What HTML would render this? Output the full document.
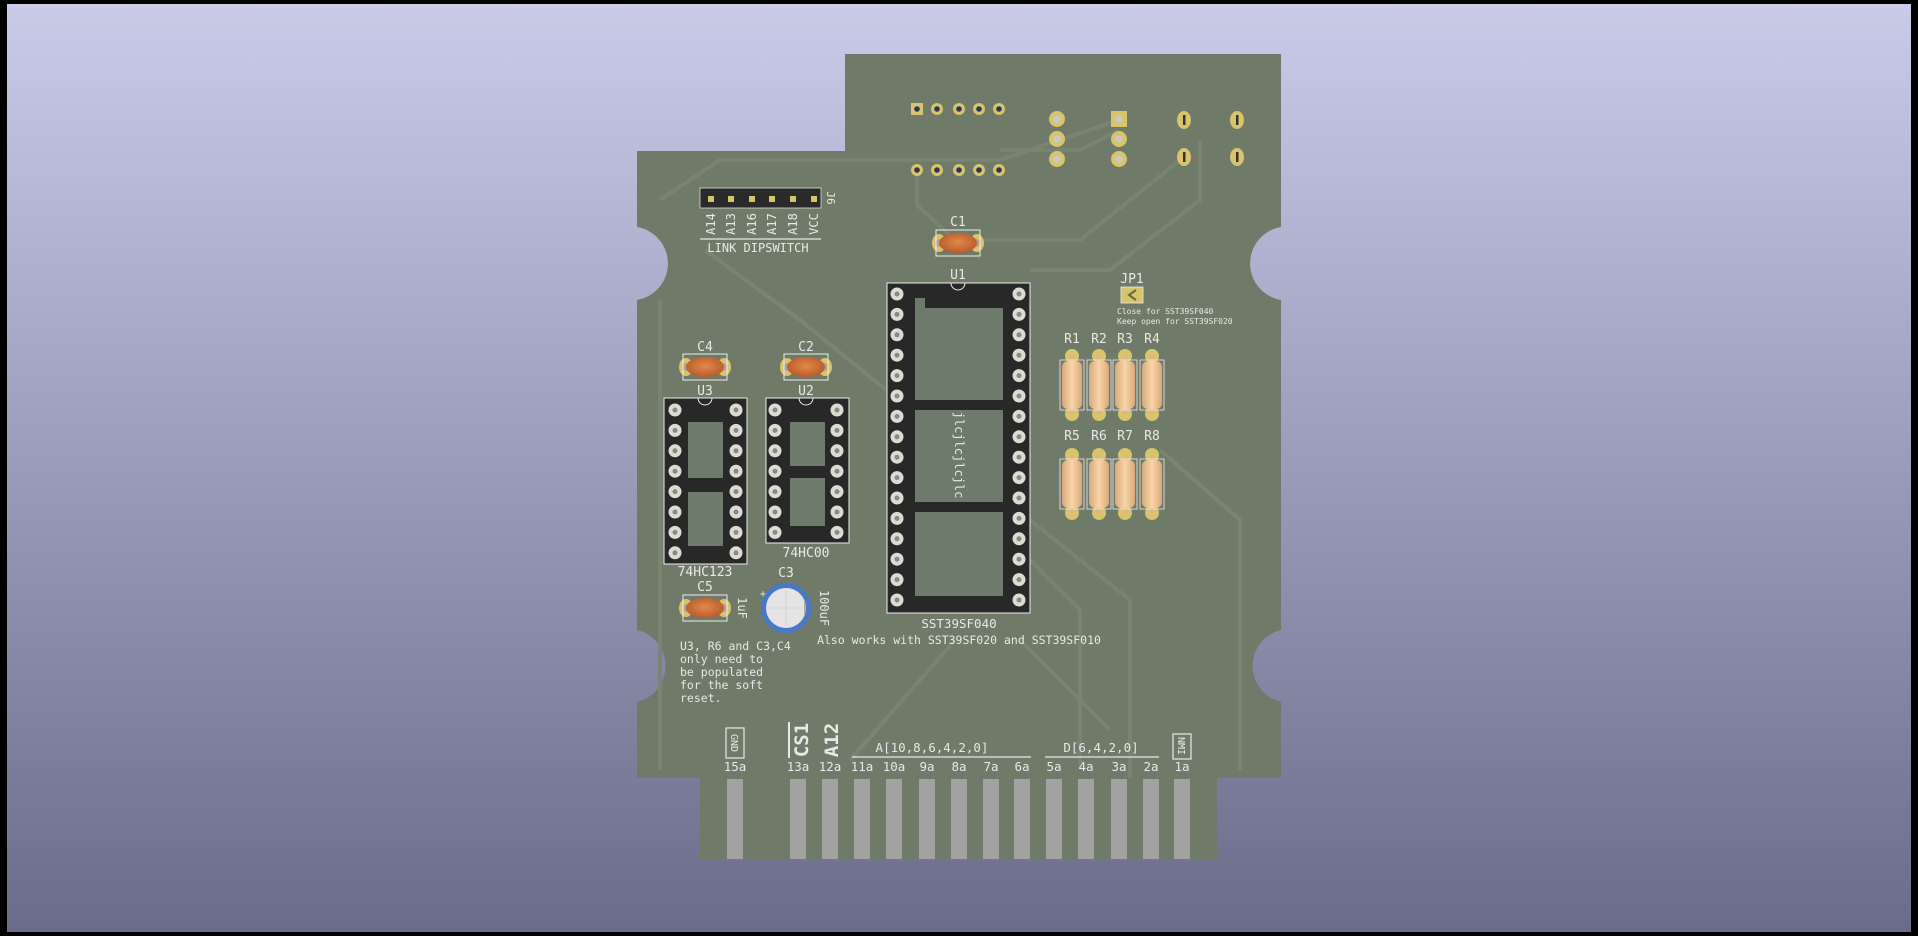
<!DOCTYPE html>
<html><head><meta charset="utf-8"><style>
html,body{margin:0;padding:0;width:1918px;height:936px;overflow:hidden;background:#000}
svg{display:block}
text{font-family:"DejaVu Sans Mono","Liberation Mono",monospace;fill:#e8e8e8}
</style></head><body>
<svg width="1918" height="936" viewBox="0 0 1918 936" xmlns="http://www.w3.org/2000/svg">
<defs>
<linearGradient id="bg" x1="0" y1="0" x2="0" y2="1">
<stop offset="0" stop-color="#cacbe8"/><stop offset="1" stop-color="#6a6c8a"/>
</linearGradient>
<radialGradient id="cap" cx="0.5" cy="0.45" r="0.6"><stop offset="0" stop-color="#e08a4a"/><stop offset="1" stop-color="#b8562a"/></radialGradient>
<linearGradient id="res" x1="0" y1="0" x2="1" y2="0"><stop offset="0" stop-color="#d9a87a"/><stop offset="0.5" stop-color="#f7d6a8"/><stop offset="1" stop-color="#d9a87a"/></linearGradient>
<g id="spin"><circle r="6.5" fill="#dcdcd4"/><circle r="2.5" fill="#8a8a84"/></g>
<g id="gpad"><circle r="6" fill="#d8c46a"/><circle r="2.8" fill="#2a3560"/></g>
<g id="bpad"><circle r="8" fill="#d8c46a"/><circle r="3.5" fill="#c8c8d0"/></g>
<g id="scap"><ellipse cx="-19" cy="0" rx="7" ry="9" fill="#d8c46a"/><ellipse cx="19" cy="0" rx="7" ry="9" fill="#d8c46a"/><ellipse cx="-19" cy="0" rx="3" ry="4" fill="#b0a0a0"/><ellipse cx="19" cy="0" rx="3" ry="4" fill="#b0a0a0"/><ellipse rx="19" ry="10" fill="url(#cap)"/><rect x="-22" y="-13" width="44" height="26" fill="none" stroke="#eee" stroke-width="1"/></g>
<g id="resg"><circle cx="0" cy="-29" r="7" fill="#d8c46a"/><circle cx="0" cy="29" r="7" fill="#d8c46a"/><rect x="-3" y="-29" width="6" height="58" fill="#e0b67e"/><rect x="-10" y="-24" width="20" height="48" rx="6" fill="url(#res)"/><rect x="-12" y="-25" width="24" height="50" fill="none" stroke="#eee" stroke-width="0.8"/></g>
</defs>
<rect x="7" y="4" width="1904" height="928" fill="url(#bg)"/>
<!-- board -->
<path d="M845 54 H1281 V227 A37 37 0 0 0 1281 300 V630 A37 37 0 0 0 1281 702 V778 H1217 V859 H700 V778 H637 V702 A37 37 0 0 0 637 630 V300 A37 37 0 0 0 637 227 V151 H845 Z" fill="#707a68"/>
<!-- traces -->
<g stroke="#7a8572" stroke-width="4" fill="none" opacity="0.9">
<path d="M917 170 V205 L955 240 H1080 L1184 157"/><path d="M660 200 L720 160 H1000 L1119 120"/>
<path d="M705 250 L800 320 L886 390"/><path d="M1030 270 H1110 L1200 200 V140"/>
<path d="M1030 520 L1130 600 V778"/><path d="M1030 560 L1080 610 V770"/>
<path d="M955 640 L850 760"/><path d="M1020 640 L1110 730"/><path d="M660 300 V770"/>
<path d="M1160 450 L1240 520 V770"/><path d="M1000 150 H1080 L1119 130"/>
</g>
<!-- fingers -->
<g fill="#a2a2a2">
<rect x="727" y="779" width="16" height="80"/><rect x="790" y="779" width="16" height="80"/><rect x="822" y="779" width="16" height="80"/><rect x="854" y="779" width="16" height="80"/><rect x="886" y="779" width="16" height="80"/><rect x="919" y="779" width="16" height="80"/><rect x="951" y="779" width="16" height="80"/><rect x="983" y="779" width="16" height="80"/><rect x="1014" y="779" width="16" height="80"/><rect x="1046" y="779" width="16" height="80"/><rect x="1078" y="779" width="16" height="80"/><rect x="1111" y="779" width="16" height="80"/><rect x="1143" y="779" width="16" height="80"/><rect x="1174" y="779" width="16" height="80"/>
</g>
<g font-size="12.5" text-anchor="middle">
<text x="735" y="771">15a</text><text x="798" y="771">13a</text><text x="830" y="771">12a</text><text x="862" y="771">11a</text><text x="894" y="771">10a</text><text x="927" y="771">9a</text><text x="959" y="771">8a</text><text x="991" y="771">7a</text><text x="1022" y="771">6a</text><text x="1054" y="771">5a</text><text x="1086" y="771">4a</text><text x="1119" y="771">3a</text><text x="1151" y="771">2a</text><text x="1182" y="771">1a</text>
<text x="932" y="752">A[10,8,6,4,2,0]</text><text x="1101" y="752">D[6,4,2,0]</text>
</g>
<g stroke="#e8e8e8" stroke-width="1.2" fill="none">
<line x1="852" y1="757" x2="1031" y2="757"/><line x1="1045" y1="757" x2="1159" y2="757"/>
<rect x="726" y="728" width="18" height="30"/><rect x="1173" y="734" width="18" height="25"/>
<line x1="789" y1="722" x2="789" y2="758" stroke-width="2"/>
<line x1="700" y1="239" x2="821" y2="239"/>
</g>
<text font-size="10" transform="translate(731 743) rotate(90)" text-anchor="middle">GND</text>
<text font-size="10" transform="translate(1178 746) rotate(90)" text-anchor="middle">NMI</text>
<text font-size="19" font-weight="bold" transform="translate(808 740) rotate(-90)" text-anchor="middle">CS1</text>
<text font-size="19" font-weight="bold" transform="translate(838 740) rotate(-90)" text-anchor="middle">A12</text>
<!-- header J6 -->
<rect x="700" y="188" width="121" height="20" fill="#2a2a2a" stroke="#ddd" stroke-width="0.8"/>
<g fill="#d8c46a"><rect x="708" y="196" width="6" height="6"/><rect x="728" y="196" width="6" height="6"/><rect x="749" y="196" width="6" height="6"/><rect x="769" y="196" width="6" height="6"/><rect x="790" y="196" width="6" height="6"/><rect x="811" y="196" width="6" height="6"/></g>
<text font-size="11" transform="translate(827 198) rotate(90)" text-anchor="middle">J6</text>
<g font-size="12" text-anchor="middle">
<text transform="translate(715 224) rotate(-90)">A14</text><text transform="translate(735 224) rotate(-90)">A13</text><text transform="translate(756 224) rotate(-90)">A16</text><text transform="translate(776 224) rotate(-90)">A17</text><text transform="translate(797 224) rotate(-90)">A18</text><text transform="translate(818 224) rotate(-90)">VCC</text>
<text x="758" y="252">LINK DIPSWITCH</text>
</g>
<!-- top pads -->
<rect x="911" y="103" width="12" height="12" fill="#d8c46a"/><circle cx="917" cy="109" r="2.8" fill="#2a3560"/>
<use href="#gpad" x="937" y="109"/><use href="#gpad" x="959" y="109"/><use href="#gpad" x="979" y="109"/><use href="#gpad" x="999" y="109"/>
<use href="#gpad" x="917" y="170"/><use href="#gpad" x="937" y="170"/><use href="#gpad" x="959" y="170"/><use href="#gpad" x="979" y="170"/><use href="#gpad" x="999" y="170"/>
<use href="#bpad" x="1057" y="119"/><use href="#bpad" x="1057" y="139"/><use href="#bpad" x="1057" y="159"/>
<rect x="1111" y="111" width="16" height="16" fill="#d8c46a"/><circle cx="1119" cy="119" r="3.5" fill="#c8c8d0"/>
<use href="#bpad" x="1119" y="139"/><use href="#bpad" x="1119" y="159"/>
<g fill="#d8c46a"><ellipse cx="1184" cy="120" rx="7" ry="9"/><ellipse cx="1237" cy="120" rx="7" ry="9"/><ellipse cx="1184" cy="157" rx="7" ry="9"/><ellipse cx="1237" cy="157" rx="7" ry="9"/></g>
<g fill="#333"><rect x="1183" y="115" width="2.5" height="10"/><rect x="1236" y="115" width="2.5" height="10"/><rect x="1183" y="152" width="2.5" height="10"/><rect x="1236" y="152" width="2.5" height="10"/></g>
<!-- caps -->
<use href="#scap" x="958" y="243"/><text x="958" y="226" font-size="13" text-anchor="middle">C1</text>
<use href="#scap" x="705" y="367"/><text x="705" y="351" font-size="13" text-anchor="middle">C4</text>
<use href="#scap" x="806" y="367"/><text x="806" y="351" font-size="13" text-anchor="middle">C2</text>
<use href="#scap" x="705" y="608"/><text x="705" y="591" font-size="13" text-anchor="middle">C5</text>
<text font-size="12" transform="translate(738 608) rotate(90)" text-anchor="middle">1uF</text>
<circle cx="786" cy="608" r="25" fill="#4a78c8"/><circle cx="786" cy="608" r="20" fill="#e4e4e4"/><path d="M804 600 A20 20 0 0 1 804 616 Z" fill="#b0a890"/>
<line x1="786" y1="590" x2="786" y2="626" stroke="#ccc" stroke-width="0.6"/><line x1="768" y1="608" x2="804" y2="608" stroke="#ccc" stroke-width="0.6"/>
<text x="760" y="597" font-size="10">+</text>
<text x="786" y="577" font-size="13" text-anchor="middle">C3</text>
<text font-size="12" transform="translate(820 608) rotate(90)" text-anchor="middle">100uF</text>
<!-- U1 -->
<rect x="887" y="283" width="143" height="330" fill="#282828" stroke="#eee" stroke-width="1"/>
<rect x="915" y="308" width="88" height="92" fill="#6e7a6c"/><rect x="915" y="410" width="88" height="92" fill="#6e7a6c"/><rect x="915" y="512" width="88" height="84" fill="#6e7a6c"/>
<rect x="915" y="298" width="10" height="10" fill="#6e7a6c"/>
<path d="M951 283 A7 7 0 0 0 965 283" fill="none" stroke="#eee"/>
<text x="958" y="279" font-size="13" text-anchor="middle">U1</text>
<text font-size="12" transform="translate(955 455) rotate(90)" text-anchor="middle">jlcjlcjlcjlc</text>
<g id="u1l">
<use href="#spin" x="897" y="294"/><use href="#spin" x="897" y="314.4"/><use href="#spin" x="897" y="334.8"/><use href="#spin" x="897" y="355.2"/><use href="#spin" x="897" y="375.6"/><use href="#spin" x="897" y="396"/><use href="#spin" x="897" y="416.4"/><use href="#spin" x="897" y="436.8"/><use href="#spin" x="897" y="457.2"/><use href="#spin" x="897" y="477.6"/><use href="#spin" x="897" y="498"/><use href="#spin" x="897" y="518.4"/><use href="#spin" x="897" y="538.8"/><use href="#spin" x="897" y="559.2"/><use href="#spin" x="897" y="579.6"/><use href="#spin" x="897" y="600"/>
</g>
<use href="#u1l" x="122"/>
<text x="959" y="628" font-size="12.5" text-anchor="middle">SST39SF040</text>
<text x="959" y="644" font-size="11.5" text-anchor="middle">Also works with SST39SF020 and SST39SF010</text>
<!-- U3 -->
<rect x="664" y="398" width="83" height="166" fill="#282828" stroke="#eee" stroke-width="1"/>
<rect x="688" y="422" width="35" height="56" fill="#6e7a6c"/><rect x="688" y="492" width="35" height="54" fill="#6e7a6c"/>
<path d="M698 398 A7 7 0 0 0 712 398" fill="none" stroke="#eee"/>
<g id="u3l"><use href="#spin" x="675" y="410"/><use href="#spin" x="675" y="430.4"/><use href="#spin" x="675" y="450.8"/><use href="#spin" x="675" y="471.2"/><use href="#spin" x="675" y="491.6"/><use href="#spin" x="675" y="512"/><use href="#spin" x="675" y="532.4"/><use href="#spin" x="675" y="552.8"/></g>
<use href="#u3l" x="61"/>
<text x="705" y="395" font-size="13" text-anchor="middle">U3</text>
<text x="705" y="576" font-size="13" text-anchor="middle">74HC123</text>
<!-- U2 -->
<rect x="766" y="398" width="83" height="145" fill="#282828" stroke="#eee" stroke-width="1"/>
<rect x="790" y="422" width="35" height="44" fill="#6e7a6c"/><rect x="790" y="478" width="35" height="48" fill="#6e7a6c"/>
<path d="M799 398 A7 7 0 0 0 813 398" fill="none" stroke="#eee"/>
<g id="u2l"><use href="#spin" x="775" y="410"/><use href="#spin" x="775" y="430.4"/><use href="#spin" x="775" y="450.8"/><use href="#spin" x="775" y="471.2"/><use href="#spin" x="775" y="491.6"/><use href="#spin" x="775" y="512"/><use href="#spin" x="775" y="532.4"/></g>
<use href="#u2l" x="62"/>
<text x="806" y="395" font-size="13" text-anchor="middle">U2</text>
<text x="806" y="557" font-size="13" text-anchor="middle">74HC00</text>
<!-- JP1 -->
<text x="1132" y="283" font-size="13" text-anchor="middle">JP1</text>
<rect x="1121" y="287" width="22" height="16" fill="#d8c46a" stroke="#eee" stroke-width="0.8"/>
<path d="M1136 290 L1129 295 L1136 300" stroke="#6a6a40" stroke-width="2" fill="none"/>
<text x="1117" y="314" font-size="8">Close for SST39SF040</text>
<text x="1117" y="324" font-size="8">Keep open for SST39SF020</text>
<!-- resistors -->
<g font-size="13" text-anchor="middle">
<text x="1072" y="343">R1</text><text x="1099" y="343">R2</text><text x="1125" y="343">R3</text><text x="1152" y="343">R4</text>
<text x="1072" y="440">R5</text><text x="1099" y="440">R6</text><text x="1125" y="440">R7</text><text x="1152" y="440">R8</text>
</g>
<use href="#resg" x="1072" y="385"/><use href="#resg" x="1099" y="385"/><use href="#resg" x="1125" y="385"/><use href="#resg" x="1152" y="385"/>
<use href="#resg" x="1072" y="484"/><use href="#resg" x="1099" y="484"/><use href="#resg" x="1125" y="484"/><use href="#resg" x="1152" y="484"/>
<!-- note -->
<g font-size="11.5"><text x="680" y="650">U3, R6 and C3,C4</text><text x="680" y="663">only need to</text><text x="680" y="676">be populated</text><text x="680" y="689">for the soft</text><text x="680" y="702">reset.</text></g>
</svg>
</body></html>
